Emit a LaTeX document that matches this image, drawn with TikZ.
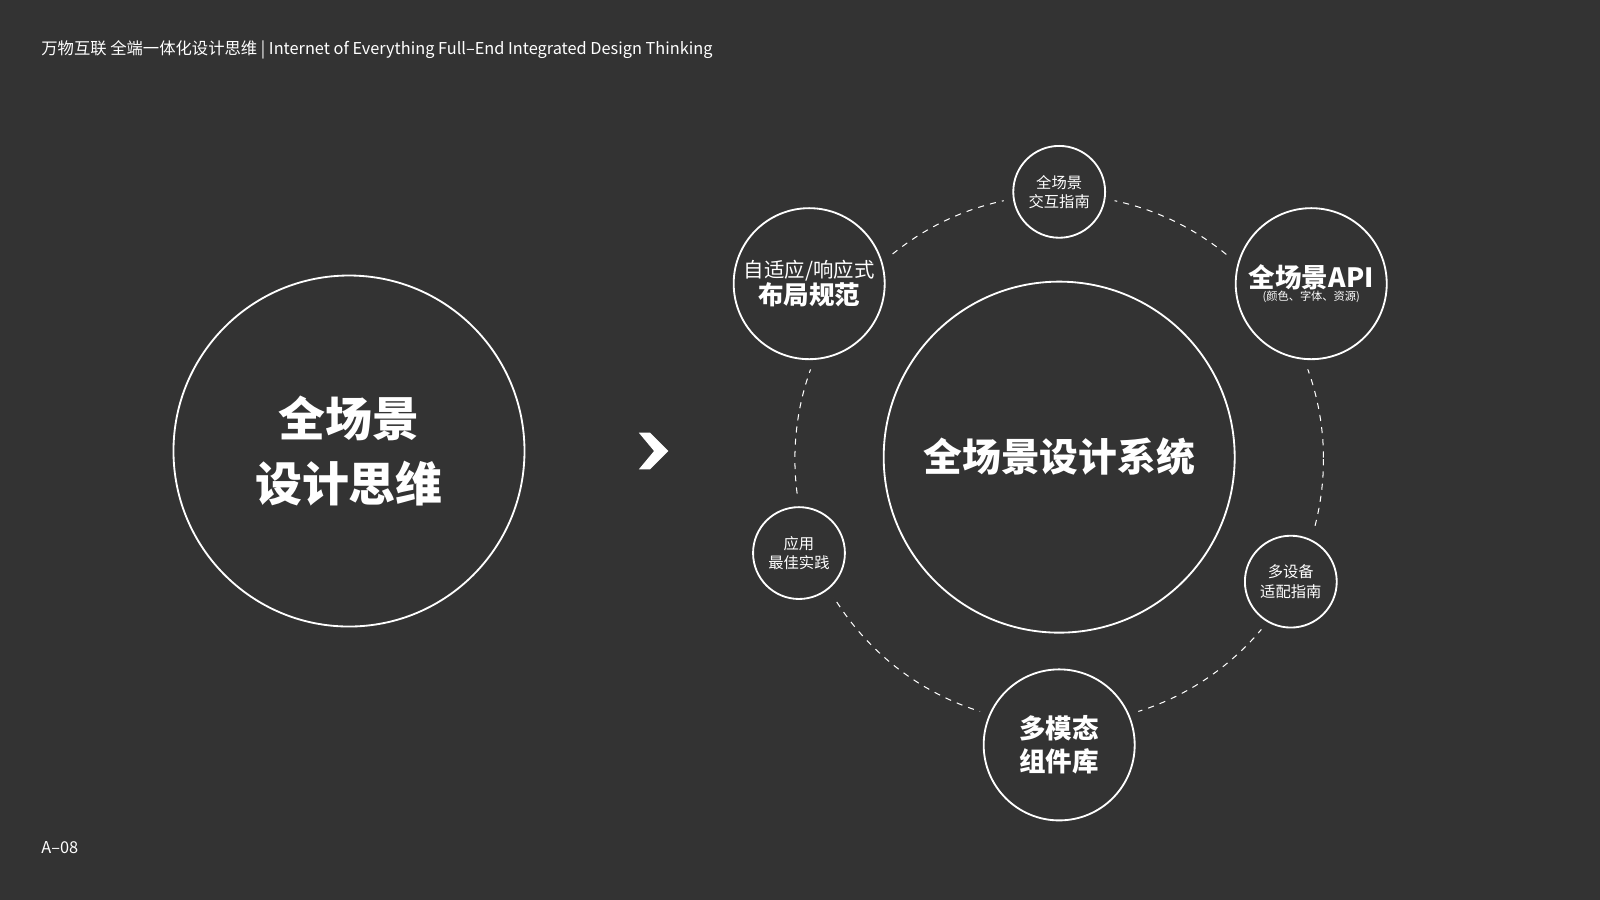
\documentclass[tikz,border=0pt]{standalone}
\usepackage{fontspec}
\setmainfont{Noto Sans CJK SC}
\begin{document}
\begin{tikzpicture}[x=1pt,y=-1pt,
  ring/.style={circle,draw=white,line width=1.8pt,fill=bg,text=white,align=center,inner sep=0pt},
  gapring/.style={circle,fill=bg,draw=none}]
\definecolor{bg}{HTML}{333333}
\fill[bg] (0,0) rectangle (1568,882);
\useasboundingbox (0,0) rectangle (1568,882);
\node[anchor=west,text=white,font=\fontsize{16}{18}\selectfont] (title) at (37,49) {万物互联 全端一体化设计思维 | Internet of Everything Full–End Integrated Design Thinking};
\node[anchor=west,text=white,font=\fontsize{16}{18}\selectfont] (foot) at (37,831) {A–08};
% left
\node[ring,minimum size=344pt,font=\fontsize{46}{64}\selectfont\bfseries] (left) at (342,442) {全场景\\设计思维};
% arrow
\fill[white] (626,424) -- (637,424) -- (655,442) -- (637,460) -- (626,460) -- (641,442) -- cycle;
\coordinate (arr) at (640,442);
% orbit
\draw[white,line width=1pt,dash pattern=on 6pt off 6pt] (1038,450) circle (259);
% gaps
\foreach \x/\y/\r in {793/278/84,1038/188/55,1285/278/84,783/542/55,1265/570/55,1038/730/84}
  \fill[bg] (\x,\y) circle (\r);
\node[ring,minimum size=344pt,font=\fontsize{38}{44}\selectfont\bfseries] (center) at (1038,448) {全场景设计系统};
\node[ring,minimum size=148pt] (layout) at (793,278) {{\fontsize{20}{28}\selectfont 自适应/响应式}\\{\fontsize{25}{32}\selectfont\bfseries 布局规范}};
\node[ring,minimum size=90pt,font=\fontsize{15}{19}\selectfont] (inter) at (1038,188) {全场景\\交互指南};
\node[ring,minimum size=148pt] (api) at (1285,278) {{\fontsize{26}{32}\selectfont\bfseries 全场景API}\\{\fontsize{11}{16}\selectfont (颜色、字体、资源)}};
\node[ring,minimum size=90pt,font=\fontsize{15}{19}\selectfont] (best) at (783,542) {应用\\最佳实践};
\node[ring,minimum size=90pt,font=\fontsize{15}{19}\selectfont] (dev) at (1265,570) {多设备\\适配指南};
\node[ring,minimum size=148pt,font=\fontsize{26}{32}\selectfont\bfseries] (comp) at (1038,730) {多模态\\组件库};
\end{tikzpicture}
\end{document}
